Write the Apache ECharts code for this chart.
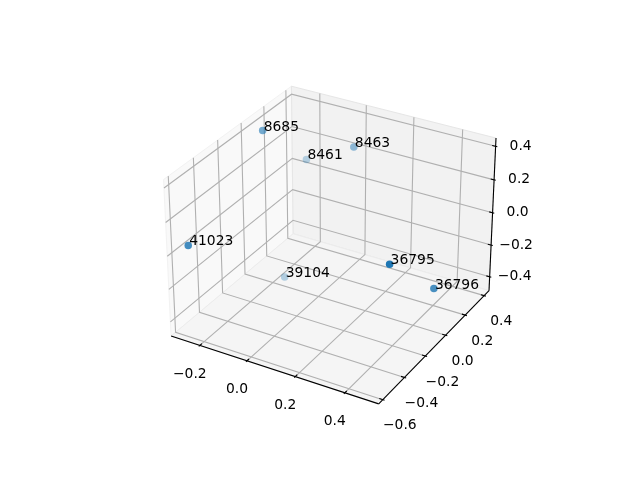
<!DOCTYPE html>
<html>
<head>
<meta charset="utf-8">
<style>html,body{margin:0;padding:0;background:#fff}#c{width:640px;height:480px}</style>
<script src="https://cdn.jsdelivr.net/npm/echarts@6/dist/echarts.min.js"></script>
</head>
<body>
<div id="c"></div>
<script>
// ---- data ----
var pointLabels = ['8685', '8461', '8463', '41023', '39104', '36795', '36796'];
var pointX = [-0.232, -0.175, 0.028, -0.282, -0.129, 0.400, 0.504];
var pointY = [0.000, 0.270, 0.271, -0.546, -0.037, -0.239, -0.058];
var pointZ = [0.438, 0.146, 0.298, 0.030, -0.400, 0.030, -0.178];
var xTicks = [-0.2, 0.0, 0.2, 0.4];
var yTicks = [-0.6, -0.4, -0.2, 0.0, 0.2, 0.4];
var zTicks = [-0.4, -0.2, 0.0, 0.2, 0.4];
var xLim = [-0.307, 0.517];
var yLim = [-0.615, 0.430];
var zLim = [-0.470, 0.430];

// ---- matplotlib style 3D camera ----
var elev = 30 * Math.PI / 180, azim = -60 * Math.PI / 180, dist = 10;
var aspect = [4, 4, 3];
var an = Math.hypot(aspect[0], aspect[1], aspect[2]);
var box = aspect.map(function (a) { return a * 1.8294640721620434 / an; });
var R = box.map(function (b) { return b / 2; });
var E = [
  R[0] + dist * Math.cos(elev) * Math.cos(azim),
  R[1] + dist * Math.cos(elev) * Math.sin(azim),
  R[2] + dist * Math.sin(elev)
];
function sub(a, b) { return [a[0] - b[0], a[1] - b[1], a[2] - b[2]]; }
function cross(a, b) { return [a[1] * b[2] - a[2] * b[1], a[2] * b[0] - a[0] * b[2], a[0] * b[1] - a[1] * b[0]]; }
function dot(a, b) { return a[0] * b[0] + a[1] * b[1] + a[2] * b[2]; }
function unit(a) { var n = Math.hypot(a[0], a[1], a[2]); return [a[0] / n, a[1] / n, a[2] / n]; }
var n = unit(sub(E, R));
var u = unit(cross([0, 0, 1], n));
var v = cross(n, u);
function project(x, y, z) {
  var w = [
    (x - xLim[0]) / (xLim[1] - xLim[0]) * box[0],
    (y - yLim[0]) / (yLim[1] - yLim[0]) * box[1],
    (z - zLim[0]) / (zLim[1] - zLim[0]) * box[2]
  ];
  var d = sub(w, E);
  var xe = dot(u, d), ye = dot(v, d), ze = dot(n, d);
  return [xe / -ze, ye / -ze, 10 / ze];
}

// pane extents: limits plus 1/48 of the range on each side
function ext(l) { var d = (l[1] - l[0]) / 48; return [l[0] - d, l[1] + d]; }
var X = ext(xLim), Y = ext(yLim), Z = ext(zLim);
var dX = (xLim[1] - xLim[0]) / 12, dY = (yLim[1] - yLim[0]) / 12;

// ---- shape lists ----
var panes = [
  { fill: '#f9f9f9', stroke: '#f2f2f2', pts: [[X[0], Y[0], Z[0]], [X[0], Y[1], Z[0]], [X[0], Y[1], Z[1]], [X[0], Y[0], Z[1]]] },
  { fill: '#f2f2f2', stroke: '#e6e6e6', pts: [[X[0], Y[1], Z[0]], [X[1], Y[1], Z[0]], [X[1], Y[1], Z[1]], [X[0], Y[1], Z[1]]] },
  { fill: '#f5f5f5', stroke: '#ececec', pts: [[X[0], Y[0], Z[0]], [X[1], Y[0], Z[0]], [X[1], Y[1], Z[0]], [X[0], Y[1], Z[0]]] }
];
var lines = [];
xTicks.forEach(function (t) {
  lines.push({ c: '#b0b0b0', pts: [[t, Y[0], Z[0]], [t, Y[1], Z[0]], [t, Y[1], Z[1]]] });
});
yTicks.forEach(function (t) {
  lines.push({ c: '#b0b0b0', pts: [[X[1], t, Z[0]], [X[0], t, Z[0]], [X[0], t, Z[1]]] });
});
zTicks.forEach(function (t) {
  lines.push({ c: '#b0b0b0', pts: [[X[0], Y[0], t], [X[0], Y[1], t], [X[1], Y[1], t]] });
});
lines.push({ c: '#000', pts: [[X[0], Y[0], Z[0]], [X[1], Y[0], Z[0]]] });
lines.push({ c: '#000', pts: [[X[1], Y[0], Z[0]], [X[1], Y[1], Z[0]]] });
lines.push({ c: '#000', pts: [[X[1], Y[1], Z[0]], [X[1], Y[1], Z[1]]] });
xTicks.forEach(function (t) {
  lines.push({ c: '#000', pts: [[t, Y[0] + 0.2 * dY, Z[0]], [t, Y[0] - 0.1 * dY, Z[0]]] });
});
yTicks.forEach(function (t) {
  lines.push({ c: '#000', pts: [[X[1] - 0.2 * dX, t, Z[0]], [X[1] + 0.1 * dX, t, Z[0]]] });
});
zTicks.forEach(function (t) {
  lines.push({ c: '#000', pts: [[X[1] - 0.2 * dX, Y[1], t], [X[1] + 0.1 * dX, Y[1], t]] });
});

function fmt(t) { return (t < 0 ? '\u2212' : '') + Math.abs(t).toFixed(1); }
var texts = [];
xTicks.forEach(function (t) { texts.push({ p: [t, Y[0], Z[0]], dx: -10, dy: 29, s: fmt(t), a: 'center' }); });
yTicks.forEach(function (t) { texts.push({ p: [X[1], t, Z[0]], dx: 17, dy: 26, s: fmt(t), a: 'center' }); });
zTicks.forEach(function (t) { texts.push({ p: [X[1], Y[1], t], dx: 25, dy: 0, s: fmt(t), a: 'center' }); });

// ---- points with depth shading ----
var proj = pointLabels.map(function (_, i) { return project(pointX[i], pointY[i], pointZ[i]); });
var depths = proj.map(function (p) { return p[2]; });
var dMin = Math.min.apply(null, depths), dMax = Math.max.apply(null, depths);
var pointData = proj.map(function (p, i) {
  return {
    name: pointLabels[i],
    value: [p[0], p[1]],
    itemStyle: { opacity: 1 - 0.7 * (p[2] - dMin) / (dMax - dMin) }
  };
});

function polyItem(list, closed) {
  return function (params, api) {
    var it = list[params.dataIndex];
    var pts = it.pts.map(function (q) {
      var p = project(q[0], q[1], q[2]);
      return api.coord([p[0], p[1]]);
    });
    return closed
      ? { type: 'polygon', shape: { points: pts }, style: { fill: it.fill, stroke: it.stroke, lineWidth: 1 } }
      : { type: 'polyline', shape: { points: pts }, style: { fill: null, stroke: it.c, lineWidth: 1.1 } };
  };
}
function indexData(list) { return list.map(function (_, i) { return [i]; }); }

var chart = echarts.init(document.getElementById('c'), null, { renderer: 'canvas' });
var fontCss = '13.89px "DejaVu Sans"';
chart.setOption({
  animation: false,
  backgroundColor: '#fff',
  grid: { left: 143.2, top: 57.6, width: 369.6, height: 369.6 },
  xAxis: { type: 'value', min: -0.095, max: 0.09, show: false },
  yAxis: { type: 'value', min: -0.095, max: 0.09, show: false },
  series: [
    { type: 'custom', coordinateSystem: 'cartesian2d', clip: false, silent: true, z: 1,
      data: indexData(panes), encode: { x: 0, y: 0 }, renderItem: polyItem(panes, true) },
    { type: 'custom', coordinateSystem: 'cartesian2d', clip: false, silent: true, z: 2,
      data: indexData(lines), encode: { x: 0, y: 0 }, renderItem: polyItem(lines, false) },
    { type: 'custom', coordinateSystem: 'cartesian2d', clip: false, silent: true, z: 3,
      data: indexData(texts), encode: { x: 0, y: 0 },
      renderItem: function (params, api) {
        var it = texts[params.dataIndex];
        var p = project(it.p[0], it.p[1], it.p[2]);
        var c = api.coord([p[0], p[1]]);
        return { type: 'text', style: { x: c[0] + it.dx, y: c[1] + it.dy, text: it.s, font: fontCss,
          fill: '#000', align: it.a, verticalAlign: 'middle' } };
      } },
    { type: 'scatter', coordinateSystem: 'cartesian2d', clip: false, silent: true, z: 4,
      symbol: 'circle', symbolSize: 7.5,
      itemStyle: { color: '#1f77b4' },
      data: pointData },
    { type: 'custom', coordinateSystem: 'cartesian2d', clip: false, silent: true, z: 5,
      data: indexData(pointLabels), encode: { x: 0, y: 0 },
      renderItem: function (params, api) {
        var i = params.dataIndex;
        var c = api.coord([proj[i][0], proj[i][1]]);
        return { type: 'text', style: { x: c[0] + 1, y: c[1] - 3.5, text: pointLabels[i], font: fontCss,
          fill: '#000', align: 'left', verticalAlign: 'middle' } };
      } }
  ]
});
</script>
</body>
</html>
